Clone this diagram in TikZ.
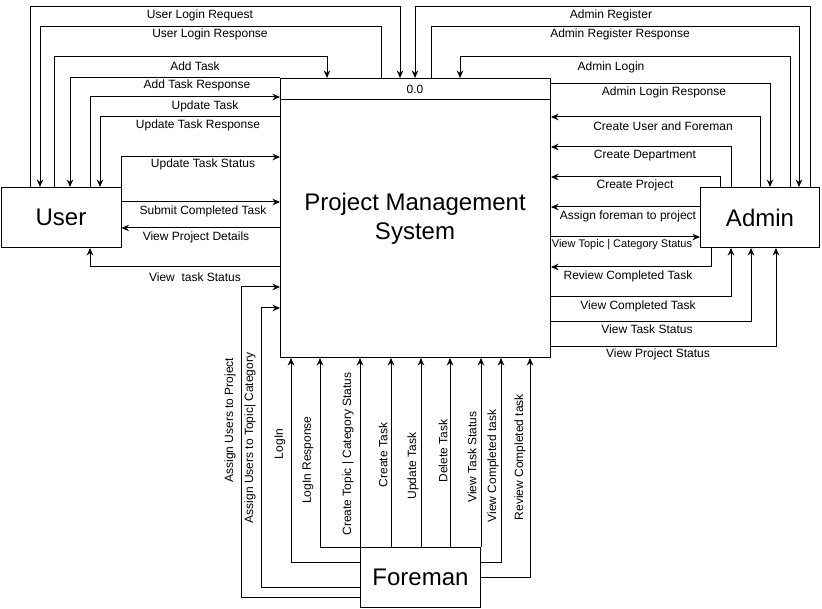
\documentclass[tikz,border=0pt]{standalone}
\usepackage{fontspec}
\setmainfont{Liberation Sans}
\usetikzlibrary{arrows.meta}
\begin{document}
\begin{tikzpicture}[x=1pt,y=-1pt,line width=1pt,
  box/.style={draw,inner sep=0pt,anchor=north west},
  arr/.style={-{Stealth[length=7.5pt,width=6.5pt]}},
  lbl/.style={inner sep=0pt,font=\fontsize{12}{14}\selectfont},
  slbl/.style={inner sep=0pt,font=\fontsize{11}{13}\selectfont},
  vlbl/.style={inner sep=0pt,rotate=90,font=\fontsize{12}{14}\selectfont},
  big/.style={inner sep=0pt,align=center,font=\fontsize{24}{29}\selectfont}]
\useasboundingbox (0,0) rectangle (822,609);
% boxes
\node[box,minimum width=270pt,minimum height=279pt] (main) at (280,78) {};
\coordinate (hl) at (280,100);
\coordinate (hr) at (550,100);
\draw (hl) -- (hr);
\node[lbl] (hdr) at (415,89) {0.0};
\node[big] (title) at (415,219) {Project Management\\System};
\node[box,minimum width=120pt,minimum height=60pt] (user) at (0.5,187) {};
\node[big] (usert) at (user.center) {User};
\node[box,minimum width=119pt,minimum height=60pt] (admin) at (700,187) {};
\node[big] (admint) at (admin.center) {Admin};
\node[box,minimum width=120pt,minimum height=60pt] (foreman) at (360,547) {};
\node[big] (foremant) at (foreman.center) {Foreman};
% user top connectors
\draw[arr] (30,0 |- user.north) -- (30,7) -- (400,7) -- (400,0 |- main.north);
\node[lbl] (l1) at (200,15) {User Login Request};
\draw[arr] (381,0 |- main.north) -- (381,27) -- (40,27) -- (40,0 |- user.north);
\node[lbl] (l2) at (210,34) {User Login Response};
\draw[arr] (54,0 |- user.north) -- (54,57) -- (327,57) -- (327,0 |- main.north);
\node[lbl] (l3) at (195,66) {Add Task};
\draw[arr] (main.north west) -- (70,78) -- (70,0 |- user.north);
\node[lbl] (l4) at (197,85) {Add Task Response};
\draw[arr] (90,0 |- user.north) -- (90,97) -- (main.west |- 0,97);
\node[lbl] (l5) at (205,106) {Update Task};
\draw[arr] (main.west |- 0,117) -- (100,117) -- (100,0 |- user.north);
\node[lbl] (l6) at (198,125) {Update Task Response};
\draw[arr] (user.north east) |- (main.west |- 0,157);
\node[lbl] (l7) at (203,164) {Update Task Status};
\draw[arr] (user.east |- 0,202) -- (main.west |- 0,202);
\node[lbl] (l8) at (203,211) {Submit Completed Task};
\draw[arr] (main.west |- 0,228) -- (user.east |- 0,228);
\node[lbl] (l9) at (196,237) {View Project Details};
\draw[arr] (main.west |- 0,267) -- (90,267) -- (90,0 |- user.south);
\node[lbl] (l10) at (195,277) {View\ \ task Status};
% admin connectors
\draw[arr] (810,0 |- admin.north) -- (810,7) -- (415,7) -- (415,0 |- main.north);
\node[lbl] (r1) at (611,15) {Admin Register};
\draw[arr] (431,0 |- main.north) -- (431,27) -- (799,27) -- (799,0 |- admin.north);
\node[lbl] (r2) at (620,34) {Admin Register Response};
\draw[arr] (790,0 |- admin.north) -- (790,57) -- (460,57) -- (460,0 |- main.north);
\node[lbl] (r3) at (611,67) {Admin Login};
\draw[arr] (main.east |- 0,84) -- (770,84) -- (770,0 |- admin.north);
\node[lbl] (r4) at (664,92) {Admin Login Response};
\draw[arr] (760,0 |- admin.north) -- (760,117) -- (main.east |- 0,117);
\node[lbl] (r5) at (663,126) {Create User and Foreman};
\draw[arr] (731,0 |- admin.north) -- (731,147) -- (main.east |- 0,147);
\node[lbl] (r6) at (645,156) {Create Department};
\draw[arr] (720,0 |- admin.north) -- (720,177) -- (main.east |- 0,177);
\node[lbl] (r7) at (635,185) {Create Project};
\draw[arr] (admin.west |- 0,207) -- (main.east |- 0,207);
\node[lbl] (r8) at (628,216) {Assign foreman to project};
\draw[arr] (main.east |- 0,237) -- (admin.west |- 0,237);
\node[slbl] (r9) at (622,245) {View Topic | Category Status};
\draw[arr] (711,0 |- admin.south) -- (711,267) -- (main.east |- 0,267);
\node[lbl] (r10) at (628,276) {Review Completed Task};
\draw[arr] (main.east |- 0,297) -- (731,297) -- (731,0 |- admin.south);
\node[lbl] (r11) at (638,306) {View Completed Task};
\draw[arr] (main.east |- 0,322) -- (751,322) -- (751,0 |- admin.south);
\node[lbl] (r12) at (647,329) {View Task Status};
\draw[arr] (main.east |- 0,347) -- (776,347) -- (776,0 |- admin.south);
\node[lbl] (r13) at (658,354) {View Project Status};
% foreman connectors
\draw[arr] (foreman.west |- 0,597) -- (241,597) -- (241,287) -- (main.west |- 0,287);
\node[vlbl] (b1) at (230,420) {Assign Users to Project};
\draw[arr] (foreman.west |- 0,587) -- (261,587) -- (261,308) -- (main.west |- 0,308);
\node[vlbl] (b2) at (250,438) {Assign Users to Topic| Category};
\draw[arr] (foreman.west |- 0,562) -- (291,562) -- (291,0 |- main.south);
\node[vlbl] (b3) at (280,444) {LogIn};
\draw[arr] (foreman.north west) -- (320,547) -- (320,0 |- main.south);
\node[vlbl] (b4) at (308,460) {LogIn Response};
\draw[arr] (foreman.north west) -- (foreman.north west |- main.south);
\node[vlbl] (b5) at (348,454) {Create Topic | Category Status};
\draw[arr] (391,0 |- foreman.north) -- (391,0 |- main.south);
\node[vlbl] (b6) at (383,455) {Create Task};
\draw[arr] (421,0 |- foreman.north) -- (421,0 |- main.south);
\node[vlbl] (b7) at (413,466) {Update Task};
\draw[arr] (450,0 |- foreman.north) -- (450,0 |- main.south);
\node[vlbl] (b8) at (443,451) {Delete Task};
\draw[arr] (foreman.north east) -- (foreman.north east |- main.south);
\node[vlbl] (b9) at (472,457) {View Task Status};
\draw[arr] (foreman.east |- 0,562) -- (501,562) -- (501,0 |- main.south);
\node[vlbl] (b10) at (493,466) {View Completed task};
\draw[arr] (foreman.east |- 0,577) -- (530,577) -- (530,0 |- main.south);
\node[vlbl] (b11) at (520,457) {Review Completed task};
\end{tikzpicture}
\end{document}
